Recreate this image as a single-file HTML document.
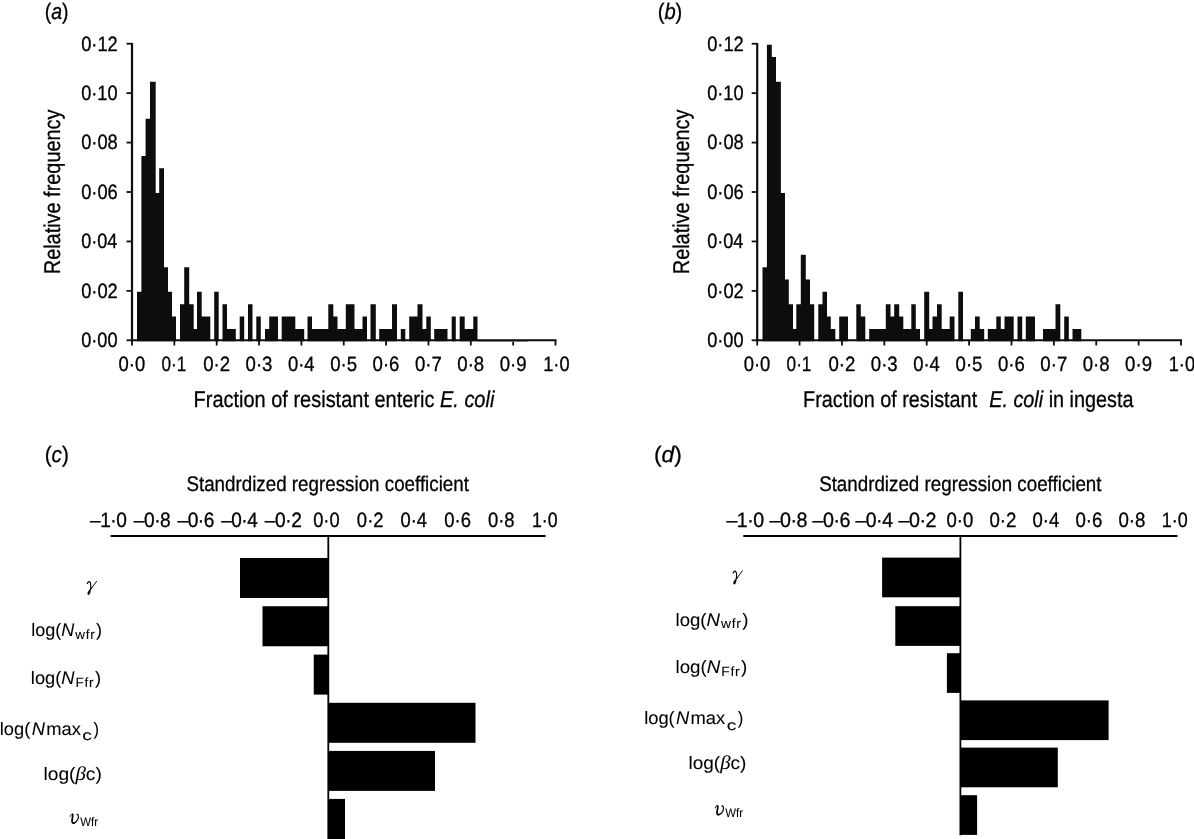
<!DOCTYPE html>
<html><head><meta charset="utf-8"><title>Figure</title>
<style>
html,body{margin:0;padding:0;background:#fff;}
body{width:1194px;height:839px;overflow:hidden;font-family:"Liberation Sans",sans-serif;}
svg{display:block;will-change:transform;}
text{fill:#000;white-space:pre;text-rendering:geometricPrecision;stroke:#000;stroke-width:0.3px;}
</style></head><body>
<svg width="1194" height="839" viewBox="0 0 1194 839">
<!--A-->
<path d="M137.00 341.3V291.86H141.40V341.3ZM141.40 341.3V155.90H145.60V341.3ZM145.60 341.3V118.82H150.00V341.3ZM150.00 341.3V81.74H155.70V341.3ZM155.70 341.3V192.98H159.20V341.3ZM159.20 341.3V168.26H164.00V341.3ZM164.00 341.3V267.14H168.00V341.3ZM168.00 341.3V291.86H172.00V341.3ZM172.00 341.3V316.58H176.00V341.3ZM180.00 341.3V304.22H184.20V341.3ZM184.20 341.3V267.14H189.20V341.3ZM189.20 341.3V304.22H193.70V341.3ZM193.70 341.3V328.94H197.00V341.3ZM197.00 341.3V291.86H201.70V341.3ZM201.70 341.3V316.58H206.00V341.3ZM206.00 341.3V316.58H210.30V341.3ZM214.20 341.3V291.86H218.70V341.3ZM222.50 341.3V304.22H227.00V341.3ZM227.00 341.3V328.94H231.40V341.3ZM231.40 341.3V328.94H235.80V341.3ZM239.70 341.3V316.58H244.20V341.3ZM248.00 341.3V304.22H252.50V341.3ZM256.30 341.3V316.58H260.80V341.3ZM265.00 341.3V328.94H269.20V341.3ZM269.20 341.3V316.58H273.60V341.3ZM273.60 341.3V316.58H278.00V341.3ZM281.70 341.3V316.58H286.23V341.3ZM286.23 341.3V316.58H290.77V341.3ZM290.77 341.3V316.58H295.30V341.3ZM295.30 341.3V328.94H299.75V341.3ZM299.75 341.3V328.94H304.20V341.3ZM307.50 341.3V316.58H312.00V341.3ZM312.00 341.3V328.94H316.07V341.3ZM316.07 341.3V328.94H320.15V341.3ZM320.15 341.3V328.94H324.23V341.3ZM324.23 341.3V328.94H328.30V341.3ZM328.30 341.3V304.22H333.30V341.3ZM333.30 341.3V316.58H337.50V341.3ZM337.50 341.3V328.94H341.65V341.3ZM341.65 341.3V328.94H345.80V341.3ZM345.80 341.3V304.22H350.15V341.3ZM350.15 341.3V304.22H354.50V341.3ZM354.50 341.3V328.94H358.50V341.3ZM358.50 341.3V328.94H362.50V341.3ZM362.50 341.3V316.58H367.00V341.3ZM370.50 341.3V304.22H375.80V341.3ZM379.20 341.3V328.94H383.47V341.3ZM383.47 341.3V328.94H387.73V341.3ZM387.73 341.3V328.94H392.00V341.3ZM392.00 341.3V304.22H397.00V341.3ZM400.80 341.3V328.94H405.30V341.3ZM409.20 341.3V316.58H413.35V341.3ZM413.35 341.3V316.58H417.50V341.3ZM417.50 341.3V304.22H422.50V341.3ZM422.50 341.3V328.94H426.30V341.3ZM426.30 341.3V316.58H430.80V341.3ZM434.20 341.3V328.94H438.63V341.3ZM438.63 341.3V328.94H443.07V341.3ZM443.07 341.3V328.94H447.50V341.3ZM451.70 341.3V316.58H455.80V341.3ZM459.70 341.3V316.58H464.70V341.3ZM464.70 341.3V328.94H469.00V341.3ZM469.00 341.3V328.94H473.30V341.3ZM473.30 341.3V316.58H477.50V341.3Z" fill="#0d0d0d"/>
<path d="M132 42.9V341.3" stroke="#0d0d0d" stroke-width="2.2" fill="none"/>
<path d="M131 340.3H556.5" stroke="#0d0d0d" stroke-width="2" fill="none"/>
<path d="M126.5 340.30H132" stroke="#0d0d0d" stroke-width="1.8"/>
<text transform="translate(81.14 347.15) scale(0.8745 1)" style="font-family:'Liberation Sans',sans-serif;font-size:20.8px">0·00</text>
<path d="M126.5 290.87H132" stroke="#0d0d0d" stroke-width="1.8"/>
<text transform="translate(81.14 297.72) scale(0.8800 1)" style="font-family:'Liberation Sans',sans-serif;font-size:20.8px">0·02</text>
<path d="M126.5 241.44H132" stroke="#0d0d0d" stroke-width="1.8"/>
<text transform="translate(81.15 248.29) scale(0.8691 1)" style="font-family:'Liberation Sans',sans-serif;font-size:20.8px">0·04</text>
<path d="M126.5 192.01H132" stroke="#0d0d0d" stroke-width="1.8"/>
<text transform="translate(81.14 198.86) scale(0.8800 1)" style="font-family:'Liberation Sans',sans-serif;font-size:20.8px">0·06</text>
<path d="M126.5 142.58H132" stroke="#0d0d0d" stroke-width="1.8"/>
<text transform="translate(81.14 149.43) scale(0.8800 1)" style="font-family:'Liberation Sans',sans-serif;font-size:20.8px">0·08</text>
<path d="M126.5 93.15H132" stroke="#0d0d0d" stroke-width="1.8"/>
<text transform="translate(81.14 100.00) scale(0.8745 1)" style="font-family:'Liberation Sans',sans-serif;font-size:20.8px">0·10</text>
<path d="M126.5 43.72H132" stroke="#0d0d0d" stroke-width="1.8"/>
<text transform="translate(81.14 50.57) scale(0.8800 1)" style="font-family:'Liberation Sans',sans-serif;font-size:20.8px">0·12</text>
<path d="M132.00 340.3V345.5" stroke="#0d0d0d" stroke-width="1.8"/>
<text transform="translate(118.48 371.10) scale(0.8870 1)" style="font-family:'Liberation Sans',sans-serif;font-size:20.8px">0·0</text>
<path d="M174.35 340.3V345.5" stroke="#0d0d0d" stroke-width="1.8"/>
<text transform="translate(161.38 371.10) scale(0.8246 1)" style="font-family:'Liberation Sans',sans-serif;font-size:20.8px">0·1</text>
<path d="M216.70 340.3V345.5" stroke="#0d0d0d" stroke-width="1.8"/>
<text transform="translate(203.18 371.10) scale(0.8947 1)" style="font-family:'Liberation Sans',sans-serif;font-size:20.8px">0·2</text>
<path d="M259.05 340.3V345.5" stroke="#0d0d0d" stroke-width="1.8"/>
<text transform="translate(245.53 371.10) scale(0.8947 1)" style="font-family:'Liberation Sans',sans-serif;font-size:20.8px">0·3</text>
<path d="M301.40 340.3V345.5" stroke="#0d0d0d" stroke-width="1.8"/>
<text transform="translate(287.88 371.10) scale(0.8870 1)" style="font-family:'Liberation Sans',sans-serif;font-size:20.8px">0·4</text>
<path d="M343.75 340.3V345.5" stroke="#0d0d0d" stroke-width="1.8"/>
<text transform="translate(330.23 371.10) scale(0.8947 1)" style="font-family:'Liberation Sans',sans-serif;font-size:20.8px">0·5</text>
<path d="M386.10 340.3V345.5" stroke="#0d0d0d" stroke-width="1.8"/>
<text transform="translate(372.58 371.10) scale(0.8947 1)" style="font-family:'Liberation Sans',sans-serif;font-size:20.8px">0·6</text>
<path d="M428.45 340.3V345.5" stroke="#0d0d0d" stroke-width="1.8"/>
<text transform="translate(414.93 371.10) scale(0.8947 1)" style="font-family:'Liberation Sans',sans-serif;font-size:20.8px">0·7</text>
<path d="M470.80 340.3V345.5" stroke="#0d0d0d" stroke-width="1.8"/>
<text transform="translate(457.28 371.10) scale(0.8947 1)" style="font-family:'Liberation Sans',sans-serif;font-size:20.8px">0·8</text>
<path d="M513.15 340.3V345.5" stroke="#0d0d0d" stroke-width="1.8"/>
<text transform="translate(499.63 371.10) scale(0.8947 1)" style="font-family:'Liberation Sans',sans-serif;font-size:20.8px">0·9</text>
<path d="M555.50 340.3V345.5" stroke="#0d0d0d" stroke-width="1.8"/>
<text transform="translate(543.24 371.10) scale(0.8750 1)" style="font-family:'Liberation Sans',sans-serif;font-size:20.8px">1·0</text>
<rect x="478" y="341.1" width="49.5" height="0.9" fill="#777"/>
<!--B-->
<path d="M762.50 341.3V267.14H766.90V341.3ZM766.90 341.3V44.66H771.80V341.3ZM771.80 341.3V57.02H776.00V341.3ZM776.00 341.3V81.74H780.90V341.3ZM780.90 341.3V192.98H785.00V341.3ZM785.00 341.3V279.50H788.80V341.3ZM788.80 341.3V304.22H793.00V341.3ZM793.00 341.3V328.94H796.30V341.3ZM796.30 341.3V304.22H800.80V341.3ZM800.80 341.3V254.78H805.80V341.3ZM805.80 341.3V279.50H810.00V341.3ZM810.00 341.3V304.22H814.20V341.3ZM818.30 341.3V304.22H822.50V341.3ZM822.50 341.3V291.86H827.00V341.3ZM827.00 341.3V316.58H830.80V341.3ZM830.80 341.3V328.94H835.30V341.3ZM839.20 341.3V316.58H843.60V341.3ZM843.60 341.3V316.58H848.00V341.3ZM856.30 341.3V304.22H860.80V341.3ZM860.80 341.3V316.58H865.30V341.3ZM869.20 341.3V328.94H873.35V341.3ZM873.35 341.3V328.94H877.50V341.3ZM877.50 341.3V328.94H881.65V341.3ZM881.65 341.3V328.94H885.80V341.3ZM885.80 341.3V304.22H890.50V341.3ZM890.50 341.3V316.58H894.20V341.3ZM894.20 341.3V304.22H899.20V341.3ZM899.20 341.3V316.58H903.30V341.3ZM903.30 341.3V328.94H907.30V341.3ZM907.30 341.3V328.94H911.30V341.3ZM911.30 341.3V304.22H915.80V341.3ZM915.80 341.3V328.94H920.00V341.3ZM924.20 341.3V291.86H929.20V341.3ZM929.20 341.3V328.94H932.50V341.3ZM932.50 341.3V316.58H937.00V341.3ZM937.00 341.3V304.22H941.70V341.3ZM941.70 341.3V328.94H945.70V341.3ZM945.70 341.3V328.94H949.70V341.3ZM949.70 341.3V316.58H954.50V341.3ZM958.30 341.3V291.86H963.00V341.3ZM970.80 341.3V328.94H975.00V341.3ZM975.00 341.3V316.58H979.70V341.3ZM979.70 341.3V328.94H984.20V341.3ZM987.80 341.3V328.94H992.05V341.3ZM992.05 341.3V328.94H996.30V341.3ZM996.30 341.3V316.58H1000.80V341.3ZM1000.80 341.3V328.94H1004.50V341.3ZM1004.50 341.3V316.58H1009.10V341.3ZM1009.10 341.3V316.58H1013.70V341.3ZM1017.50 341.3V316.58H1022.20V341.3ZM1025.80 341.3V316.58H1030.40V341.3ZM1030.40 341.3V316.58H1035.00V341.3ZM1043.00 341.3V328.94H1047.17V341.3ZM1047.17 341.3V328.94H1051.33V341.3ZM1051.33 341.3V328.94H1055.50V341.3ZM1055.50 341.3V304.22H1060.30V341.3ZM1064.20 341.3V316.58H1068.80V341.3ZM1072.50 341.3V328.94H1076.90V341.3ZM1076.90 341.3V328.94H1081.30V341.3Z" fill="#0d0d0d"/>
<path d="M757.2 42.9V341.3" stroke="#0d0d0d" stroke-width="2.2" fill="none"/>
<path d="M756.2 340.3H1182" stroke="#0d0d0d" stroke-width="2" fill="none"/>
<path d="M751.7 340.30H757.2" stroke="#0d0d0d" stroke-width="1.8"/>
<text transform="translate(707.14 347.15) scale(0.8745 1)" style="font-family:'Liberation Sans',sans-serif;font-size:20.8px">0·00</text>
<path d="M751.7 290.87H757.2" stroke="#0d0d0d" stroke-width="1.8"/>
<text transform="translate(707.14 297.72) scale(0.8800 1)" style="font-family:'Liberation Sans',sans-serif;font-size:20.8px">0·02</text>
<path d="M751.7 241.44H757.2" stroke="#0d0d0d" stroke-width="1.8"/>
<text transform="translate(707.15 248.29) scale(0.8691 1)" style="font-family:'Liberation Sans',sans-serif;font-size:20.8px">0·04</text>
<path d="M751.7 192.01H757.2" stroke="#0d0d0d" stroke-width="1.8"/>
<text transform="translate(707.14 198.86) scale(0.8800 1)" style="font-family:'Liberation Sans',sans-serif;font-size:20.8px">0·06</text>
<path d="M751.7 142.58H757.2" stroke="#0d0d0d" stroke-width="1.8"/>
<text transform="translate(707.14 149.43) scale(0.8800 1)" style="font-family:'Liberation Sans',sans-serif;font-size:20.8px">0·08</text>
<path d="M751.7 93.15H757.2" stroke="#0d0d0d" stroke-width="1.8"/>
<text transform="translate(707.14 100.00) scale(0.8745 1)" style="font-family:'Liberation Sans',sans-serif;font-size:20.8px">0·10</text>
<path d="M751.7 43.72H757.2" stroke="#0d0d0d" stroke-width="1.8"/>
<text transform="translate(707.14 50.57) scale(0.8800 1)" style="font-family:'Liberation Sans',sans-serif;font-size:20.8px">0·12</text>
<path d="M757.20 340.3V345.5" stroke="#0d0d0d" stroke-width="1.8"/>
<text transform="translate(743.68 371.10) scale(0.8870 1)" style="font-family:'Liberation Sans',sans-serif;font-size:20.8px">0·0</text>
<path d="M799.58 340.3V345.5" stroke="#0d0d0d" stroke-width="1.8"/>
<text transform="translate(786.61 371.10) scale(0.8246 1)" style="font-family:'Liberation Sans',sans-serif;font-size:20.8px">0·1</text>
<path d="M841.96 340.3V345.5" stroke="#0d0d0d" stroke-width="1.8"/>
<text transform="translate(828.44 371.10) scale(0.8947 1)" style="font-family:'Liberation Sans',sans-serif;font-size:20.8px">0·2</text>
<path d="M884.34 340.3V345.5" stroke="#0d0d0d" stroke-width="1.8"/>
<text transform="translate(870.82 371.10) scale(0.8947 1)" style="font-family:'Liberation Sans',sans-serif;font-size:20.8px">0·3</text>
<path d="M926.72 340.3V345.5" stroke="#0d0d0d" stroke-width="1.8"/>
<text transform="translate(913.20 371.10) scale(0.8870 1)" style="font-family:'Liberation Sans',sans-serif;font-size:20.8px">0·4</text>
<path d="M969.10 340.3V345.5" stroke="#0d0d0d" stroke-width="1.8"/>
<text transform="translate(955.58 371.10) scale(0.8947 1)" style="font-family:'Liberation Sans',sans-serif;font-size:20.8px">0·5</text>
<path d="M1011.48 340.3V345.5" stroke="#0d0d0d" stroke-width="1.8"/>
<text transform="translate(997.96 371.10) scale(0.8947 1)" style="font-family:'Liberation Sans',sans-serif;font-size:20.8px">0·6</text>
<path d="M1053.86 340.3V345.5" stroke="#0d0d0d" stroke-width="1.8"/>
<text transform="translate(1040.34 371.10) scale(0.8947 1)" style="font-family:'Liberation Sans',sans-serif;font-size:20.8px">0·7</text>
<path d="M1096.24 340.3V345.5" stroke="#0d0d0d" stroke-width="1.8"/>
<text transform="translate(1082.72 371.10) scale(0.8947 1)" style="font-family:'Liberation Sans',sans-serif;font-size:20.8px">0·8</text>
<path d="M1138.62 340.3V345.5" stroke="#0d0d0d" stroke-width="1.8"/>
<text transform="translate(1125.10 371.10) scale(0.8947 1)" style="font-family:'Liberation Sans',sans-serif;font-size:20.8px">0·9</text>
<path d="M1181.00 340.3V345.5" stroke="#0d0d0d" stroke-width="1.8"/>
<text transform="translate(1168.74 371.10) scale(0.8750 1)" style="font-family:'Liberation Sans',sans-serif;font-size:20.8px">1·0</text>
<text transform="translate(44.71 19.30) scale(0.8720 1)" style="font-family:'Liberation Sans',sans-serif;font-size:22.4px">(<tspan font-style="italic">a</tspan>)</text>
<text transform="translate(657.67 19.30) scale(0.9000 1)" style="font-family:'Liberation Sans',sans-serif;font-size:22.4px">(<tspan font-style="italic">b</tspan>)</text>
<text transform="translate(44.64 462.20) scale(0.9263 1)" style="font-family:'Liberation Sans',sans-serif;font-size:22.4px">(<tspan font-style="italic">c</tspan>)</text>
<text transform="translate(653.93 462.20) scale(1.0160 1)" style="font-family:'Liberation Sans',sans-serif;font-size:22.4px">(<tspan font-style="italic">d</tspan>)</text>
<text transform="translate(60.00 274.23) rotate(-90) scale(0.8721 1)" style="font-family:'Liberation Sans',sans-serif;font-size:22.8px">Relative frequency</text>
<text transform="translate(688.80 274.23) rotate(-90) scale(0.8721 1)" style="font-family:'Liberation Sans',sans-serif;font-size:22.8px">Relative frequency</text>
<text transform="translate(193.57 407.20) scale(0.8760 1)" style="font-family:'Liberation Sans',sans-serif;font-size:22.8px">Fraction of resistant enteric <tspan font-style="italic">E. coli</tspan></text>
<text transform="translate(803.08 407.20) scale(0.8695 1)" style="font-family:'Liberation Sans',sans-serif;font-size:22.8px">Fraction of resistant <tspan dx="7.5"><tspan font-style="italic">E. coli</tspan></tspan> in ingesta</text>
<!--C-->
<path d="M110.6 536H545.6" stroke="#000" stroke-width="2" fill="none"/>
<path d="M328.3 536V839" stroke="#000" stroke-width="1.8" fill="none"/>
<rect x="240.00" y="558.00" width="88.30" height="40"/>
<rect x="262.50" y="606.25" width="65.80" height="40"/>
<rect x="313.75" y="654.60" width="14.55" height="40"/>
<rect x="328.30" y="702.80" width="147.20" height="40"/>
<rect x="328.30" y="750.90" width="106.70" height="40"/>
<rect x="328.30" y="798.90" width="16.70" height="45"/>
<text transform="translate(90.08 526.75) scale(0.9157 1)" style="font-family:'Liberation Sans',sans-serif;font-size:20.8px;letter-spacing:-0.5px">–1·0</text>
<text transform="translate(133.77 526.75) scale(0.9215 1)" style="font-family:'Liberation Sans',sans-serif;font-size:20.8px;letter-spacing:-0.5px">–0·8</text>
<text transform="translate(177.46 526.75) scale(0.9215 1)" style="font-family:'Liberation Sans',sans-serif;font-size:20.8px;letter-spacing:-0.5px">–0·6</text>
<text transform="translate(221.15 526.75) scale(0.9100 1)" style="font-family:'Liberation Sans',sans-serif;font-size:20.8px;letter-spacing:-0.5px">–0·4</text>
<text transform="translate(264.84 526.75) scale(0.9215 1)" style="font-family:'Liberation Sans',sans-serif;font-size:20.8px;letter-spacing:-0.5px">–0·2</text>
<text transform="translate(313.19 526.75) scale(0.8800 1)" style="font-family:'Liberation Sans',sans-serif;font-size:20.8px">0·0</text>
<text transform="translate(356.87 526.75) scale(0.8877 1)" style="font-family:'Liberation Sans',sans-serif;font-size:20.8px">0·2</text>
<text transform="translate(400.57 526.75) scale(0.8800 1)" style="font-family:'Liberation Sans',sans-serif;font-size:20.8px">0·4</text>
<text transform="translate(444.25 526.75) scale(0.8877 1)" style="font-family:'Liberation Sans',sans-serif;font-size:20.8px">0·6</text>
<text transform="translate(487.94 526.75) scale(0.8877 1)" style="font-family:'Liberation Sans',sans-serif;font-size:20.8px">0·8</text>
<text transform="translate(531.92 526.75) scale(0.8536 1)" style="font-family:'Liberation Sans',sans-serif;font-size:20.8px">1·0</text>
<text transform="translate(186.44 490.60) scale(0.8862 1)" style="font-family:'Liberation Sans',sans-serif;font-size:21.2px">Standrdized regression coefficient</text>
<g transform="translate(0.00 0.00)" fill="none" stroke="#000" stroke-linecap="round"><path d="M87.25 583.45C87.9 582.0 88.6 581.5 89.35 581.6C90.3 581.8 90.65 583.2 90.75 584.8C90.85 586.2 90.8 587.6 90.6 589.0" stroke-width="1.15"/><path d="M96.5 581.4C94.8 583.6 92.6 586.6 90.9 589.2" stroke-width="1.0"/><path d="M91.0 588.5C90.7 590.4 90.3 592.4 89.7 593.8C89.3 594.8 88.4 595.0 87.9 594.5C87.3 593.9 87.6 592.8 88.3 591.6C89.0 590.4 89.9 589.4 90.5 588.4Z" fill="#000" stroke-width="0.3"/></g>
<text transform="translate(31.25 635.80) scale(1.0022 1)" style="font-family:'Liberation Sans',sans-serif;font-size:18.0px;stroke-width:0.08px">log(<tspan font-style="italic">N</tspan><tspan dx="1.0" dy="2.8" style="font-size:13.4px;letter-spacing:0.7px">wfr</tspan><tspan dx="0.6" dy="-2.8">)</tspan></text>
<text transform="translate(30.83 684.20) scale(1.0157 1)" style="font-family:'Liberation Sans',sans-serif;font-size:18.0px;stroke-width:0.08px">log(<tspan font-style="italic">N</tspan><tspan dx="1.0" dy="2.8" style="font-size:13.4px;letter-spacing:0.7px">Ffr</tspan><tspan dx="0.6" dy="-2.8">)</tspan></text>
<text transform="translate(-0.27 734.90) scale(1.0185 1)" style="font-family:'Liberation Sans',sans-serif;font-size:18.0px;stroke-width:0.08px">log(<tspan dx="1.4"><tspan font-style="italic">N</tspan></tspan><tspan dx="1.2">max</tspan></text>
<text transform="translate(82.32 740.40) scale(1.3600 1)" style="font-family:'Liberation Sans',sans-serif;font-size:14.2px;stroke-width:0.08px">c</text>
<text transform="translate(93.40 734.90) scale(0.9200 1)" style="font-family:'Liberation Sans',sans-serif;font-size:18.0px;stroke-width:0.08px">)</text>
<text transform="translate(43.47 779.70) scale(1.0648 1)" style="font-family:'Liberation Sans',sans-serif;font-size:18.0px;stroke-width:0.08px">log(<tspan style="font-family:'Liberation Serif',serif;font-size:19.6px;font-style:italic">β</tspan>c)</text>
<g transform="translate(0.00 0.00)" fill="none" stroke="#000" stroke-linecap="round" stroke-linejoin="round"><path d="M70.25 816.3C70.55 815.1 71.3 814.15 72.3 814.05" stroke-width="1.0"/><path d="M72.65 814.35C73.0 815.6 72.65 817.4 72.25 819.0C71.85 820.6 71.75 821.9 72.3 822.55C72.8 823.15 73.6 823.15 74.3 822.85" stroke-width="1.75"/><path d="M74.3 822.85C75.8 822.2 77.2 820.8 77.9 819.3C78.5 818.0 78.7 816.4 78.25 815.3C77.95 814.6 77.45 814.25 76.9 814.25" stroke-width="1.2"/></g>
<text transform="translate(80.20 825.70) scale(0.9211 1)" style="font-family:'Liberation Sans',sans-serif;font-size:12.4px;stroke-width:0.08px">Wfr</text>
<!--D-->
<path d="M743.3 536H1177.5" stroke="#000" stroke-width="2" fill="none"/>
<path d="M960.4 536V835.3" stroke="#000" stroke-width="1.8" fill="none"/>
<rect x="882.10" y="557.60" width="78.30" height="39.7"/>
<rect x="895.30" y="606.20" width="65.10" height="39.7"/>
<rect x="946.90" y="653.20" width="13.50" height="39.7"/>
<rect x="960.40" y="700.40" width="148.20" height="39.7"/>
<rect x="960.40" y="747.60" width="97.40" height="39.7"/>
<rect x="960.40" y="795.20" width="16.70" height="39.7"/>
<text transform="translate(726.44 526.75) scale(0.9409 1)" style="font-family:'Liberation Sans',sans-serif;font-size:20.8px;letter-spacing:-0.5px">–1·0</text>
<text transform="translate(769.44 526.75) scale(0.9468 1)" style="font-family:'Liberation Sans',sans-serif;font-size:20.8px;letter-spacing:-0.5px">–0·8</text>
<text transform="translate(812.44 526.75) scale(0.9468 1)" style="font-family:'Liberation Sans',sans-serif;font-size:20.8px;letter-spacing:-0.5px">–0·6</text>
<text transform="translate(855.43 526.75) scale(0.9350 1)" style="font-family:'Liberation Sans',sans-serif;font-size:20.8px;letter-spacing:-0.5px">–0·4</text>
<text transform="translate(898.44 526.75) scale(0.9468 1)" style="font-family:'Liberation Sans',sans-serif;font-size:20.8px;letter-spacing:-0.5px">–0·2</text>
<text transform="translate(946.43 526.75) scale(0.8904 1)" style="font-family:'Liberation Sans',sans-serif;font-size:20.8px">0·0</text>
<text transform="translate(989.43 526.75) scale(0.8982 1)" style="font-family:'Liberation Sans',sans-serif;font-size:20.8px">0·2</text>
<text transform="translate(1032.43 526.75) scale(0.8904 1)" style="font-family:'Liberation Sans',sans-serif;font-size:20.8px">0·4</text>
<text transform="translate(1075.43 526.75) scale(0.8982 1)" style="font-family:'Liberation Sans',sans-serif;font-size:20.8px">0·6</text>
<text transform="translate(1118.43 526.75) scale(0.8982 1)" style="font-family:'Liberation Sans',sans-serif;font-size:20.8px">0·8</text>
<text transform="translate(1161.70 526.75) scale(0.8643 1)" style="font-family:'Liberation Sans',sans-serif;font-size:20.8px">1·0</text>
<text transform="translate(819.14 490.60) scale(0.8858 1)" style="font-family:'Liberation Sans',sans-serif;font-size:21.2px">Standrdized regression coefficient</text>
<g transform="translate(645.80 -10.50)" fill="none" stroke="#000" stroke-linecap="round"><path d="M87.25 583.45C87.9 582.0 88.6 581.5 89.35 581.6C90.3 581.8 90.65 583.2 90.75 584.8C90.85 586.2 90.8 587.6 90.6 589.0" stroke-width="1.15"/><path d="M96.5 581.4C94.8 583.6 92.6 586.6 90.9 589.2" stroke-width="1.0"/><path d="M91.0 588.5C90.7 590.4 90.3 592.4 89.7 593.8C89.3 594.8 88.4 595.0 87.9 594.5C87.3 593.9 87.6 592.8 88.3 591.6C89.0 590.4 89.9 589.4 90.5 588.4Z" fill="#000" stroke-width="0.3"/></g>
<text transform="translate(675.51 625.50) scale(1.0344 1)" style="font-family:'Liberation Sans',sans-serif;font-size:18.0px;stroke-width:0.08px">log(<tspan font-style="italic">N</tspan><tspan dx="1.0" dy="2.8" style="font-size:13.4px;letter-spacing:0.7px">wfr</tspan><tspan dx="0.6" dy="-2.8">)</tspan></text>
<text transform="translate(675.50 673.30) scale(1.0397 1)" style="font-family:'Liberation Sans',sans-serif;font-size:18.0px;stroke-width:0.08px">log(<tspan font-style="italic">N</tspan><tspan dx="1.0" dy="2.8" style="font-size:13.4px;letter-spacing:0.7px">Ffr</tspan><tspan dx="0.6" dy="-2.8">)</tspan></text>
<text transform="translate(644.13 724.20) scale(1.0185 1)" style="font-family:'Liberation Sans',sans-serif;font-size:18.0px;stroke-width:0.08px">log(<tspan dx="1.4"><tspan font-style="italic">N</tspan></tspan><tspan dx="1.2">max</tspan></text>
<text transform="translate(726.72 729.70) scale(1.3600 1)" style="font-family:'Liberation Sans',sans-serif;font-size:14.2px;stroke-width:0.08px">c</text>
<text transform="translate(737.80 724.20) scale(0.9200 1)" style="font-family:'Liberation Sans',sans-serif;font-size:18.0px;stroke-width:0.08px">)</text>
<text transform="translate(688.48 769.20) scale(1.0552 1)" style="font-family:'Liberation Sans',sans-serif;font-size:18.0px;stroke-width:0.08px">log(<tspan style="font-family:'Liberation Serif',serif;font-size:19.6px;font-style:italic">β</tspan>c)</text>
<g transform="translate(645.00 -8.40)" fill="none" stroke="#000" stroke-linecap="round" stroke-linejoin="round"><path d="M70.25 816.3C70.55 815.1 71.3 814.15 72.3 814.05" stroke-width="1.0"/><path d="M72.65 814.35C73.0 815.6 72.65 817.4 72.25 819.0C71.85 820.6 71.75 821.9 72.3 822.55C72.8 823.15 73.6 823.15 74.3 822.85" stroke-width="1.75"/><path d="M74.3 822.85C75.8 822.2 77.2 820.8 77.9 819.3C78.5 818.0 78.7 816.4 78.25 815.3C77.95 814.6 77.45 814.25 76.9 814.25" stroke-width="1.2"/></g>
<text transform="translate(725.20 817.30) scale(0.9211 1)" style="font-family:'Liberation Sans',sans-serif;font-size:12.4px;stroke-width:0.08px">Wfr</text>
</svg>
</body></html>
